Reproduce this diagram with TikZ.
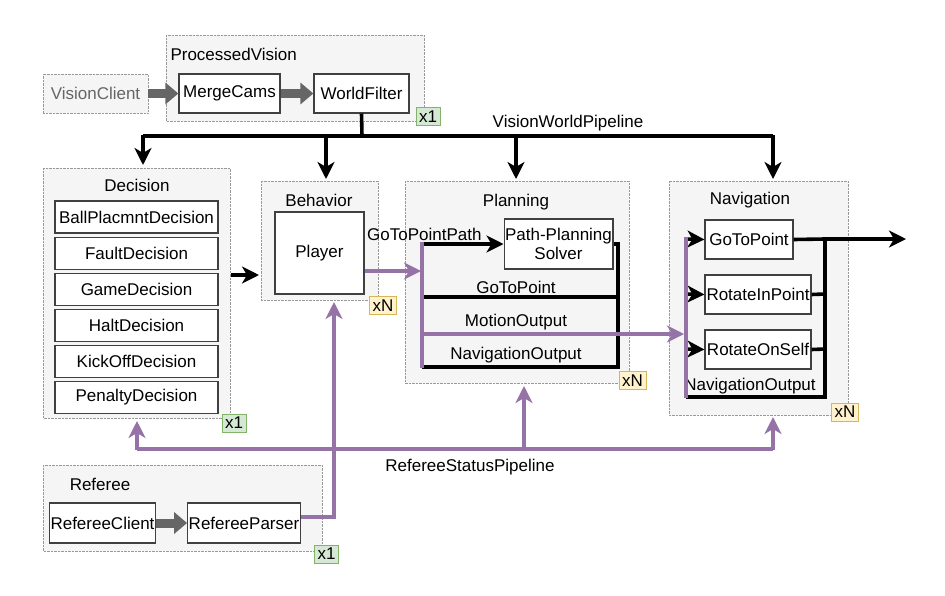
\documentclass[tikz,border=0pt]{standalone}
\usepackage{fontspec}
\setmainfont{Liberation Sans}
\usetikzlibrary{arrows.meta}
\definecolor{grpfill}{HTML}{F5F5F5}
\definecolor{grpline}{HTML}{999999}
\definecolor{purp}{HTML}{9673A6}
\definecolor{okfill}{HTML}{D5E8D4}
\definecolor{okline}{HTML}{82B366}
\definecolor{nfill}{HTML}{FFF2CC}
\definecolor{nline}{HTML}{D6B656}
\begin{document}
\begin{tikzpicture}
            [x=1pt, y=-1pt, font=\fontsize{17}{18.5}\selectfont,
             group/.style = {draw=grpline, densely dotted, fill=grpfill},
             box/.style = {draw=black!75, fill=white, line width=1.2pt, align=center, inner sep=1pt},
             badge1/.style = {draw=okline, fill=okfill, inner sep=3pt},
             badgeN/.style = {draw=nline, fill=nfill, inner sep=3pt},
             bus/.style = {line width=3.6pt},
             pbus/.style = {line width=3.6pt, draw=purp},
             tip/.style = {-{Stealth[length=17pt,width=17pt,inset=5pt]}},
             fat/.style = {line width=9pt, draw=black!60, -{Triangle[length=13pt,width=21pt]}}]
            \useasboundingbox (0,0) rectangle (945,595);
            % groups
            \draw[group] (166,35) rectangle (424,121);
            \node[anchor=west] at (167,54) {ProcessedVision};
            \draw[group] (43,168) rectangle (230,418);
            \node at (137,185) {Decision};
            \draw[group] (261,181) rectangle (378,300);
            \node at (319,200) {Behavior};
            \draw[group] (405,181) rectangle (629,383);
            \node at (516,202) {Planning};
            \draw[group] (669,181) rectangle (848,415);
            \node at (750,200) {Navigation};
            \draw[group] (43,465) rectangle (322,551);
            \node at (100,484) {Referee};
            % boxes
            \node[group, minimum width=105pt, minimum height=39pt, text=black!60] (vc) at (95.5,93.5) {VisionClient};
            \node[box, minimum width=101pt, minimum height=39pt] (mc) at (229.5,93.5) {MergeCams};
            \node[box, minimum width=95pt, minimum height=39pt] (wf) at (361.5,93.5) {WorldFilter};
            \node[box, minimum width=163pt, minimum height=32pt] (d1) at (136.5,217) {BallPlacmntDecision};
            \node[box, minimum width=163pt, minimum height=32pt] (d2) at (136.5,253.5) {FaultDecision};
            \node[box, minimum width=163pt, minimum height=32pt] (d3) at (136.5,289.5) {GameDecision};
            \node[box, minimum width=163pt, minimum height=32pt] (d4) at (136.5,325.5) {HaltDecision};
            \node[box, minimum width=163pt, minimum height=32pt] (d5) at (136.5,361.5) {KickOffDecision};
            \node[box, minimum width=163pt, minimum height=32pt] (d6) at (136.5,397.5) {PenaltyDecision};
            \node[box, minimum width=89pt, minimum height=82pt] (pl) at (319.5,253) {Player};
            \node[box, minimum width=97pt, minimum height=50pt] (pp) at (558.5,244) {Path-Planning\\Solver};
            \node[box, minimum width=88pt, minimum height=39pt] (ng) at (749,239.5) {GoToPoint};
            \node[box, minimum width=106pt, minimum height=39pt] (nr) at (758,294.5) {RotateInPoint};
            \node[box, minimum width=106pt, minimum height=39pt] (ns) at (758,349.5) {RotateOnSelf};
            \node[box, minimum width=101pt, minimum height=40pt] (rc) at (102.5,523) {RefereeClient};
            \node[box, minimum width=98pt, minimum height=40pt] (rp) at (244,523) {RefereeParser};
            % badges
            \node[badge1] (b1) at (428,116.5) {x1};
            \node[badge1] (b2) at (234,423) {x1};
            \node[badge1] (b3) at (326.5,554) {x1};
            \node[badgeN] (b4) at (383,305.5) {xN};
            \node[badgeN] (b5) at (632.5,380.5) {xN};
            \node[badgeN] (b6) at (845,412) {xN};
            % fat arrows
            \draw[fat] (vc) -- (mc);
            \draw[fat] (mc) -- (wf);
            \draw[fat] (rc) -- (rp);
            % vision bus
            \coordinate (vb) at (362,136);
            \draw[bus] (wf.south) -- (vb);
            \draw[bus] (143,136) -- (773,136);
            \draw[bus, tip] (143,135) -- (143,165);
            \draw[bus, tip] (326,135) -- (326,179);
            \draw[bus, tip] (516,135) -- (516,179);
            \draw[bus, tip] (773,135) -- (773,179);
            \node at (568,123) {VisionWorldPipeline};
            \draw[bus, tip] (231,275) -- (259,275);
            % planning
            \draw[pbus, tip] (pl.east |- 0,271) -- (421,271);
            \draw[bus, tip] (422,244) -- (pp.west);
            \node[anchor=east] at (485,234) {GoToPointPath};
            \draw[bus] (pp.east) -| (618,367) -- (422,367);
            \draw[bus] (422,297) -- (618,297);
            \node at (516,287) {GoToPoint};
            \node at (516,322) {MotionOutput};
            \node at (516,355) {NavigationOutput};
            \draw[pbus, tip] (422,334) -- (684,334);
            \draw[pbus] (422,242) -- (422,368);
            % navigation
            \draw[bus, tip] (686,239) -- (ng.west);
            \draw[bus, tip] (686,294) -- (nr.west);
            \draw[bus, tip] (686,349) -- (ns.west);
            \draw[bus] (ng.east) -- (825,239) -- (825,397) -- (686,397);
            \draw[bus] (nr.east) -- (825,294);
            \draw[bus] (ns.east) -- (825,349);
            \draw[bus, tip] (825,239) -- (906,239);
            \node at (750,386) {NavigationOutput};
            \draw[pbus] (686,237) -- (686,398);
            % referee bus
            \draw[pbus] (137,449) -- (773,449);
            \draw[pbus, tip] (137,450) -- (137,421);
            \draw[pbus, tip] (524,450) -- (524,386);
            \draw[pbus, tip] (773,450) -- (773,417);
            \draw[pbus, tip] (rp.east |- 0,517) -| (334,302);
            \node at (470,467) {RefereeStatusPipeline};
        \end{tikzpicture}
\end{document}
